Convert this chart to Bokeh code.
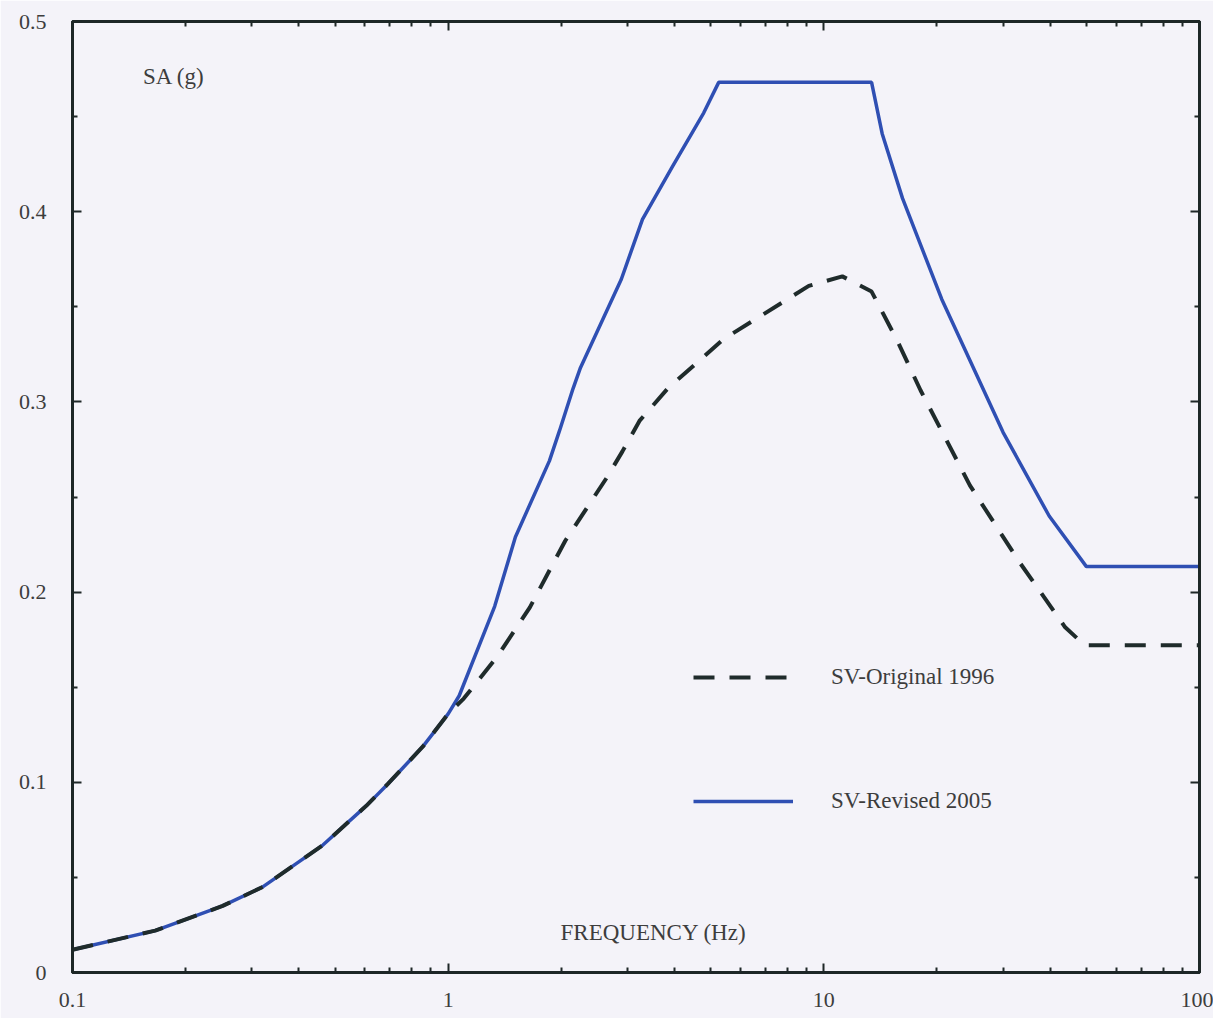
from bokeh.plotting import figure
from bokeh.models import (FixedTicker, LogAxis, LinearAxis, CustomJSTickFormatter,
                          Legend, LegendItem, Label, Range1d)
from bokeh.embed import file_html
from bokeh.resources import INLINE

# ---------------- data ----------------
freq_revised = [0.1, 0.166, 0.251, 0.321, 0.464, 0.608, 0.69, 0.858, 1.0,
                1.07, 1.33, 1.51, 1.86, 1.98, 2.15, 2.25, 2.89, 3.29, 3.96, 4.79, 5.25,
                13.4, 14.3, 16.2, 20.6, 30.0, 39.8, 50.0, 100.0]
sa_revised = [0.012, 0.022, 0.035, 0.045, 0.067, 0.088, 0.099, 0.119, 0.136,
              0.1455, 0.1925, 0.229, 0.269, 0.285, 0.307, 0.318, 0.3645, 0.396, 0.424, 0.452, 0.468,
              0.468, 0.441, 0.407, 0.354, 0.284, 0.240, 0.2134, 0.2134]

freq_original = [0.1, 0.166, 0.251, 0.321, 0.464, 0.608, 0.69, 0.858, 1.0,
                 1.10, 1.35, 1.65, 2.05, 2.64, 2.91, 3.23, 3.84, 5.41, 9.12, 11.2, 13.4,
                 15.7, 18.1, 24.5, 33.1, 43.9, 49.5, 100.0]
sa_original = [0.012, 0.022, 0.035, 0.045, 0.067, 0.088, 0.099, 0.119, 0.136,
               0.144, 0.166, 0.192, 0.227, 0.260, 0.274, 0.290, 0.307, 0.333, 0.361, 0.366, 0.358,
               0.332, 0.306, 0.256, 0.216, 0.1815, 0.172, 0.172]

x_major = [0.1, 1, 10, 100]
x_minor = [0.2, 0.3, 0.4, 0.5, 0.6, 0.7, 0.8, 0.9,
           2, 3, 4, 5, 6, 7, 8, 9,
           20, 30, 40, 50, 60, 70, 80, 90]
y_major = [0, 0.1, 0.2, 0.3, 0.4, 0.5]
y_minor = [0.05, 0.15, 0.25, 0.35, 0.45]

label_original = "SV-Original 1996"
label_revised = "SV-Revised 2005"
y_title = "SA (g)"
x_title = "FREQUENCY (Hz)"

# ---------------- styling ----------------
BG = "#f4f3f9"
INK = "#1d2727"
TXT = "#3d3d3d"
FONT = "Liberation Serif"
BLUE = "#2f4fb3"
DASH = "#1f2b2b"

p = figure(x_axis_type="log", x_range=Range1d(0.1, 100), y_range=Range1d(0, 0.5),
           frame_width=1127, frame_height=951,
           min_border_left=72, min_border_right=14, min_border_top=21, min_border_bottom=46,
           output_backend="svg", toolbar_location=None,
           background_fill_color=BG, border_fill_color=BG)
p.grid.visible = False
p.outline_line_color = INK
p.outline_line_width = 3

fmt = CustomJSTickFormatter(code="return String(Math.round(tick*10)/10);")
blank = CustomJSTickFormatter(code="return '';")

def style_axis(ax, show_labels, standoff):
    ax.axis_line_color = INK
    ax.axis_line_width = 3
    ax.major_tick_line_color = INK
    ax.minor_tick_line_color = INK
    ax.major_tick_line_width = 2
    ax.minor_tick_line_width = 2
    ax.major_tick_in = 9
    ax.major_tick_out = 0
    ax.minor_tick_in = 5
    ax.minor_tick_out = 0
    ax.major_label_text_font = FONT
    ax.major_label_text_font_size = "22px"
    ax.major_label_text_color = TXT
    ax.major_label_standoff = standoff
    ax.formatter = fmt if show_labels else blank

xt = FixedTicker(ticks=x_major, minor_ticks=x_minor)
yt = FixedTicker(ticks=y_major, minor_ticks=y_minor)

p.xaxis.ticker = xt
p.yaxis.ticker = yt
style_axis(p.xaxis[0], True, 20)
style_axis(p.yaxis[0], True, 26)

top = LogAxis(ticker=FixedTicker(ticks=x_major, minor_ticks=x_minor))
style_axis(top, False, 0)
p.add_layout(top, "above")
right = LinearAxis(ticker=FixedTicker(ticks=y_major, minor_ticks=y_minor))
style_axis(right, False, 0)
p.add_layout(right, "right")

r_rev = p.line(freq_revised, sa_revised, line_color=BLUE, line_width=3.5)
r_orig = p.line(freq_original, sa_original, line_color=DASH, line_width=4, line_dash="21 15")

legend = Legend(items=[LegendItem(label=label_original, renderers=[r_orig]),
                       LegendItem(label=label_revised, renderers=[r_rev])],
                location=(621, 158), orientation="vertical",
                background_fill_alpha=0, border_line_alpha=0,
                glyph_width=100, glyph_height=22, label_height=22,
                label_standoff=38, spacing=98, padding=0, margin=0,
                label_text_font=FONT, label_text_font_size="23px", label_text_color=TXT)
p.add_layout(legend)

p.add_layout(Label(x=0.154, y=0.471, text=y_title, text_baseline="middle",
                   text_font=FONT, text_font_size="23px", text_color=TXT))
p.add_layout(Label(x=3.52, y=0.021, text=x_title, text_baseline="middle", text_align="center",
                   text_font=FONT, text_font_size="23px", text_color=TXT))

open("out.html", "w").write(file_html(p, INLINE))
